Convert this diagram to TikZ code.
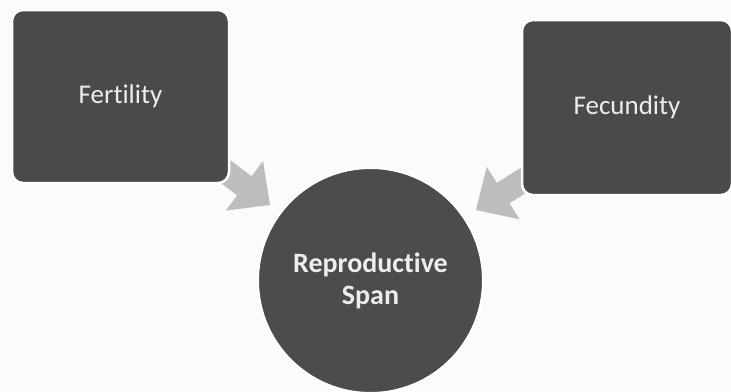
\documentclass[tikz,border=0pt]{standalone}
\usepackage{fontspec}
\setmainfont[Ligatures=NoCommon]{Carlito}
\definecolor{boxgrey}{HTML}{4A4A4A}
\definecolor{circgrey}{HTML}{4C4C4C}
\definecolor{arrgrey}{HTML}{BDBDBD}
\definecolor{txtcol}{HTML}{EDEDED}
\definecolor{pagecol}{HTML}{FBFBFB}
\tikzset{
  box/.style={rectangle, rounded corners=11pt, fill=boxgrey, draw=white, line width=2.5pt,
    text=txtcol, font=\fontsize{27}{32}\selectfont, inner sep=0pt},
  bigcirc/.style={circle, fill=circgrey, draw=white, line width=2pt, minimum size=225pt,
    text=txtcol, font=\fontsize{28}{32}\selectfont\bfseries, align=center, inner sep=0pt},
  blockarrow/.style={fill=arrgrey},
}
\begin{document}
\begin{tikzpicture}[x=1pt,y=1pt]
\fill[pagecol] (0,0) rectangle (731,-391);
\useasboundingbox (0,0) rectangle (731,-391);
% arrow tips
\coordinate (tipA) at (270,-205);
\coordinate (tipB) at (476,-210);
% block arrows (drawn beneath the boxes)
\fill[blockarrow, shift={(tipA)}, rotate=-36.9]
  (0,0) -- (-32,31) -- (-32,12) -- (-80,12) -- (-80,-12) -- (-32,-12) -- (-32,-31) -- cycle;
\fill[blockarrow, shift={(tipB)}, rotate=212]
  (0,0) -- (-32,31) -- (-32,12) -- (-80,12) -- (-80,-12) -- (-32,-12) -- (-32,-31) -- cycle;
% boxes
\node[box, minimum width=217pt, minimum height=173pt] (fert) at (120.5,-96.5) {Fertility};
\node[box, minimum width=210pt, minimum height=175pt] (fecu) at (627,-107.5) {Fecundity};
% circle
\node[bigcirc] (span) at (370.5,-280.5) {Reproductive\\Span};
\end{tikzpicture}
\end{document}
